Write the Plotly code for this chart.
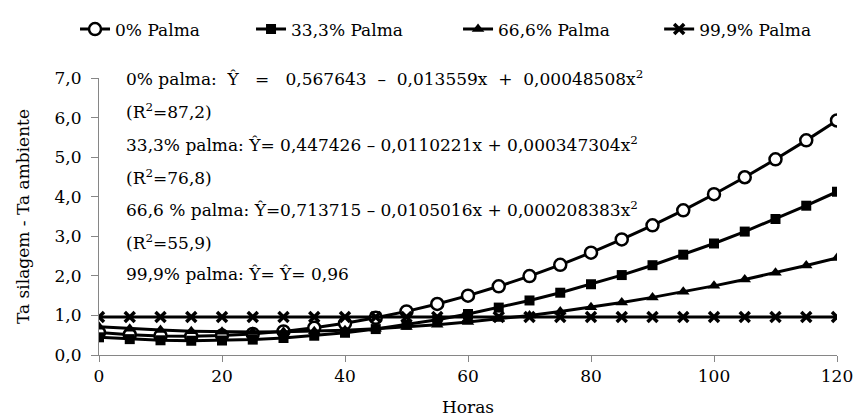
import plotly.graph_objects as go

horas = [0, 5, 10, 15, 20, 25, 30, 35, 40, 45, 50, 55, 60, 65, 70, 75, 80, 85, 90, 95, 100, 105, 110, 115, 120]
palma_0 = [0.568, 0.512, 0.481, 0.473, 0.490, 0.532, 0.597, 0.687, 0.801, 0.940, 1.102, 1.289, 1.500,
           1.736, 1.995, 2.279, 2.587, 2.920, 3.276, 3.657, 4.063, 4.492, 4.946, 5.424, 5.926]
palma_33 = [0.447, 0.401, 0.372, 0.360, 0.366, 0.389, 0.429, 0.487, 0.562, 0.655, 0.765, 0.892, 1.036,
            1.198, 1.378, 1.574, 1.788, 2.020, 2.269, 2.535, 2.818, 3.119, 3.437, 3.773, 4.126]
palma_66 = [0.714, 0.666, 0.630, 0.603, 0.587, 0.581, 0.586, 0.601, 0.627, 0.663, 0.710, 0.766, 0.834,
            0.912, 1.000, 1.098, 1.207, 1.327, 1.456, 1.597, 1.747, 1.908, 2.080, 2.262, 2.454]
palma_99 = [0.96] * 25

series_names = ["0% Palma", "33,3% Palma", "66,6% Palma", "99,9% Palma"]
x_ticks = [0, 20, 40, 60, 80, 100, 120]
y_ticks = [0, 1, 2, 3, 4, 5, 6, 7]

equations = [
    "0% palma:  Ŷ   =   0,567643  –  0,013559x  +  0,00048508x<sup>2</sup>",
    "(R<sup>2</sup>=87,2)",
    "33,3% palma: Ŷ= 0,447426 – 0,0110221x + 0,000347304x<sup>2</sup>",
    "(R<sup>2</sup>=76,8)",
    "66,6 % palma: Ŷ=0,713715 – 0,0105016x + 0,000208383x<sup>2</sup>",
    "(R<sup>2</sup>=55,9)",
    "99,9% palma: Ŷ= Ŷ= 0,96",
]
eq_y = [7.0, 6.16, 5.34, 4.51, 3.69, 2.86, 2.05]

FONT = "DejaVu Serif"
FS = 17
fig = go.Figure()

styles = [
    dict(symbol="circle", size=12, color="white", line=dict(width=2.5, color="black")),
    dict(symbol="square", size=10, color="black"),
    dict(symbol="triangle-up", size=11, color="black"),
    dict(symbol="x-thin-open", size=10, color="black", line=dict(width=3.5, color="black")),
]
legend_ids = ["legend", "legend2", "legend3", "legend4"]
legend_x = [-0.0325, 0.206, 0.4865, 0.759]
for name, ys, mk, lid in zip(series_names, [palma_0, palma_33, palma_66, palma_99], styles, legend_ids):
    fig.add_trace(go.Scatter(x=horas, y=ys, name=name, mode="lines+markers", legend=lid,
                             line=dict(color="black", width=3), marker=mk))

for txt, yy in zip(equations, eq_y):
    fig.add_annotation(x=4, y=yy, xref="x", yref="y", text=txt, showarrow=False,
                       xanchor="left", yanchor="middle",
                       font=dict(family=FONT, size=FS, color="black"))

legend_common = dict(orientation="h", xanchor="left", y=1.24, yanchor="top",
                     font=dict(family=FONT, size=FS, color="black"),
                     bgcolor="rgba(0,0,0,0)")
legends = {lid: dict(x=lx, **legend_common) for lid, lx in zip(legend_ids, legend_x)}

fig.update_layout(
    width=855, height=419, autosize=False,
    margin=dict(l=99, r=18, t=76, b=64),
    paper_bgcolor="white", plot_bgcolor="white",
    separators=",.",
    font=dict(family=FONT, size=FS, color="black"),
    showlegend=True,
    xaxis=dict(range=[0, 120], tickvals=x_ticks, ticks="outside", ticklen=6, tickcolor="#868686",
               showline=True, linecolor="#868686", linewidth=1, showgrid=False, zeroline=False,
               automargin=False,
               title=dict(text="Horas", standoff=15, font=dict(family=FONT, size=FS)),
               tickfont=dict(family=FONT, size=FS)),
    yaxis=dict(range=[0, 7], tickvals=y_ticks, tickformat=".1f", ticks="outside", ticklen=7,
               tickcolor="#868686", showline=True, linecolor="#868686", linewidth=1,
               showgrid=False, zeroline=False, ticklabelstandoff=6, automargin=False,
               title=dict(text="Ta silagem - Ta ambiente", standoff=20, font=dict(family=FONT, size=FS)),
               tickfont=dict(family=FONT, size=FS)),
    **legends,
)

fig.write_html("out.html", config={"displayModeBar": False},
               post_script="document.body.style.margin='0';")
